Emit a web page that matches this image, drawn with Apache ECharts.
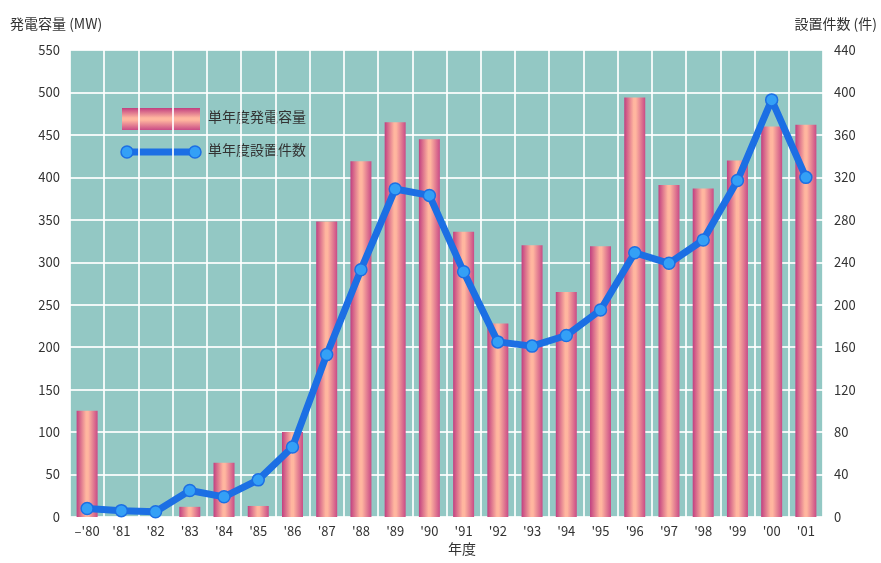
<!DOCTYPE html>
<html>
<head>
<meta charset="utf-8">
<script src="https://cdn.jsdelivr.net/npm/echarts@6/dist/echarts.min.js"></script>
<style>
  html, body { margin: 0; padding: 0; background: #fff; }
  #chart { width: 881px; height: 563px; }
</style>
</head>
<body>
<div id="chart"></div>
<script>
// 年度
var years = ["–'80", "'81", "'82", "'83", "'84", "'85", "'86", "'87", "'88", "'89", "'90",
             "'91", "'92", "'93", "'94", "'95", "'96", "'97", "'98", "'99", "'00", "'01"];
// 単年度発電容量 (MW)
var capacity = [125, 0, 0, 12, 64, 13, 100, 348, 419, 465, 445,
                336, 228, 320, 265, 319, 494, 391, 387, 420, 460, 462];
// 単年度設置件数 (件)
var installs = [8, 6, 5, 25, 19, 35, 66, 153, 233, 309, 303,
                231, 165, 161, 171, 195, 249, 239, 261, 317, 393, 320];

var leftTicks = { min: 0, max: 550, interval: 50 };
var rightTicks = { min: 0, max: 440, interval: 40 };

var FONT = '"Noto Sans CJK JP", "Noto Sans", sans-serif';
var TXT = '#333';
var LINE = '#1c6fe4';
var DOT = '#34a0f6';

function stripe(x, y) {
  return new echarts.graphic.LinearGradient(0, 0, x, y, [
    { offset: 0, color: '#c13f80' },
    { offset: 0.45, color: '#ffb69f' },
    { offset: 0.55, color: '#ffb69f' },
    { offset: 1, color: '#c94b86' }
  ]);
}

var chart = echarts.init(document.getElementById('chart'), null, { renderer: 'canvas' });

chart.setOption({
  animation: false,
  textStyle: { fontFamily: FONT },
  grid: {
    left: 70, right: 58, top: 50, bottom: 46,
    show: true, backgroundColor: '#93c8c4', borderWidth: 0
  },
  xAxis: {
    type: 'category',
    data: years,
    axisLine: { show: false },
    axisTick: { show: false },
    axisLabel: { color: TXT, fontSize: 13, margin: 8, fontFamily: FONT },
    splitLine: { show: true, lineStyle: { color: 'rgba(255,255,255,0.85)', width: 2 } }
  },
  yAxis: [{
    type: 'value',
    min: leftTicks.min, max: leftTicks.max, interval: leftTicks.interval,
    axisLine: { show: false },
    axisTick: { show: false },
    axisLabel: { color: TXT, fontSize: 13, margin: 10, fontFamily: FONT },
    splitLine: { show: true, lineStyle: { color: 'rgba(255,255,255,0.85)', width: 2 } }
  }, {
    type: 'value',
    min: rightTicks.min, max: rightTicks.max, interval: rightTicks.interval,
    axisLine: { show: false },
    axisTick: { show: false },
    axisLabel: { color: TXT, fontSize: 13, margin: 11, fontFamily: FONT },
    splitLine: { show: false }
  }],
  series: [{
    name: '単年度発電容量',
    type: 'bar',
    yAxisIndex: 0,
    barWidth: 21,
    itemStyle: { color: stripe(1, 0) },
    data: capacity
  }, {
    name: '単年度設置件数',
    type: 'line',
    yAxisIndex: 1,
    symbol: 'circle',
    symbolSize: 12,
    lineStyle: { color: LINE, width: 7 },
    itemStyle: { color: DOT, borderColor: LINE, borderWidth: 1.5 },
    data: installs
  }],
  graphic: [
    // axis titles
    { type: 'text', left: 10, top: 17,
      style: { text: '発電容量 (MW)', font: '14px ' + FONT, fill: TXT } },
    { type: 'text', right: 4, top: 17,
      style: { text: '設置件数 (件)', font: '14px ' + FONT, fill: TXT } },
    { type: 'text', left: 448, top: 542,
      style: { text: '年度', font: '14px ' + FONT, fill: TXT } },
    // legend
    { type: 'rect', shape: { x: 122, y: 108, width: 78, height: 22 },
      style: { fill: stripe(0, 1) } },
    { type: 'text', left: 208, top: 110,
      style: { text: '単年度発電容量', font: '14px ' + FONT, fill: TXT } },
    { type: 'line', shape: { x1: 127, y1: 152, x2: 195, y2: 152 },
      style: { stroke: LINE, lineWidth: 7 } },
    { type: 'circle', shape: { cx: 127, cy: 152, r: 6 },
      style: { fill: DOT, stroke: LINE, lineWidth: 1.5 } },
    { type: 'circle', shape: { cx: 195, cy: 152, r: 6 },
      style: { fill: DOT, stroke: LINE, lineWidth: 1.5 } },
    { type: 'text', left: 208, top: 143,
      style: { text: '単年度設置件数', font: '14px ' + FONT, fill: TXT } }
  ]
});
</script>
</body>
</html>
